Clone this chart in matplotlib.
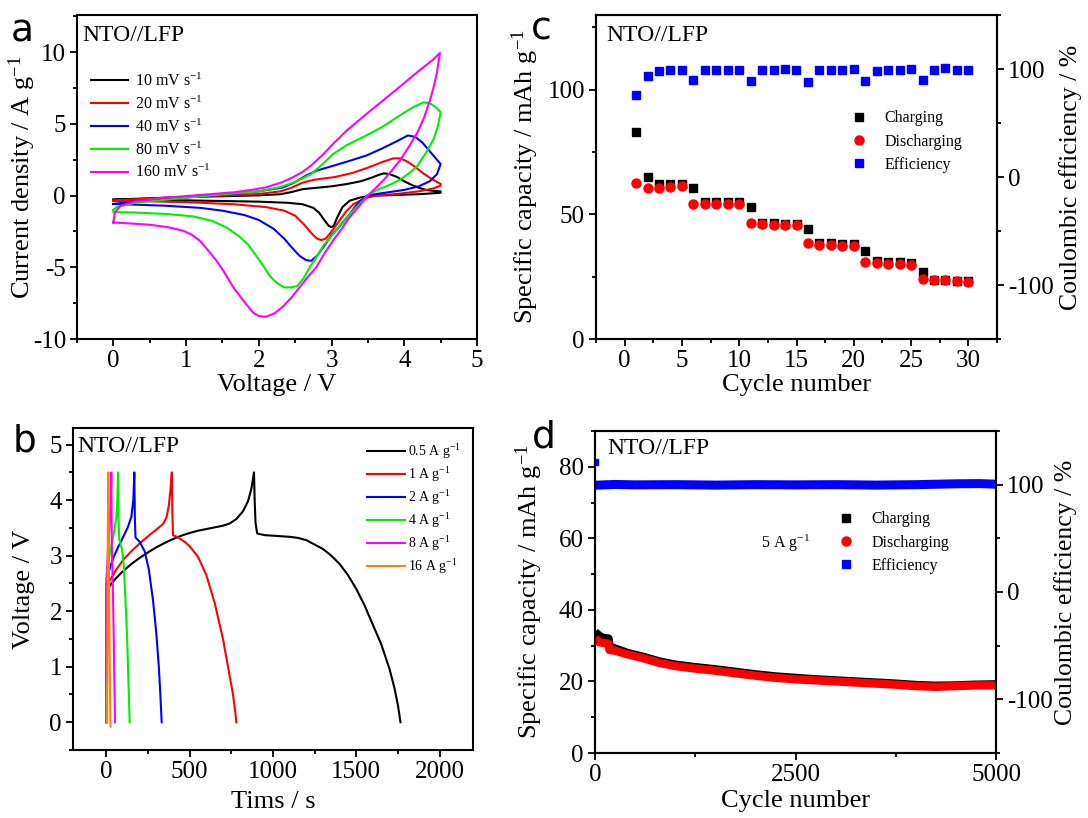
import matplotlib
matplotlib.use('Agg')
import matplotlib.pyplot as plt
from matplotlib.ticker import MultipleLocator

plt.rcParams['font.family'] = 'serif'
plt.rcParams['font.serif'] = ['Liberation Serif', 'DejaVu Serif']
plt.rcParams['mathtext.fontset'] = 'custom'
plt.rcParams['mathtext.rm'] = 'Liberation Serif'
plt.rcParams['mathtext.default'] = 'regular'
plt.rcParams['axes.unicode_minus'] = False
plt.rcParams['axes.linewidth'] = 1.5

# ---------------- panel a: CV curves ----------------
scan_labels = ['10 mV s$^{-1}$', '20 mV s$^{-1}$', '40 mV s$^{-1}$', '80 mV s$^{-1}$', '160 mV s$^{-1}$']
scan_colors = ['black', '#ff0000', '#0000ff', '#00ee00', '#ff00ff']

cv10_v = [0, 0.5, 1.0, 1.5, 2.0, 2.3, 2.45, 2.6, 2.8, 3.0, 3.2, 3.4, 3.55, 3.65, 3.72, 3.8, 3.9, 4.0, 4.1, 4.2, 4.3, 4.4, 4.5,
          4.5, 4.2, 3.9, 3.6, 3.4, 3.25, 3.15, 3.08, 3.03, 3.0, 2.96, 2.9, 2.83, 2.75, 2.6, 2.4, 2.0, 1.0, 0]
cv10_i = [-0.28, -0.18, -0.1, -0.04, 0.02, 0.1, 0.25, 0.45, 0.55, 0.65, 0.8, 1.0, 1.25, 1.45, 1.55, 1.5, 1.3, 1.0, 0.75, 0.55, 0.4, 0.33, 0.3,
          0.2, 0.1, 0.05, 0.0, -0.12, -0.35, -0.8, -1.5, -2.1, -2.2, -2.1, -1.7, -1.2, -0.85, -0.6, -0.5, -0.42, -0.33, -0.28]

cv20_v = [0, 0.5, 1.0, 1.5, 2.0, 2.3, 2.45, 2.6, 2.75, 2.9, 3.05, 3.3, 3.5, 3.7, 3.85, 3.95, 4.05, 4.15, 4.25, 4.35, 4.45, 4.5,
          4.5, 4.4, 4.2, 3.9, 3.6, 3.45, 3.3, 3.2, 3.1, 3.0, 2.92, 2.86, 2.8, 2.72, 2.62, 2.5, 2.35, 2.1, 1.65, 1.0, 0]
cv20_i = [-0.35, -0.2, -0.08, 0.0, 0.12, 0.3, 0.55, 0.9, 1.1, 1.2, 1.3, 1.6, 1.95, 2.35, 2.6, 2.6, 2.35, 2.0, 1.6, 1.25, 0.95, 0.82,
          0.7, 0.5, 0.3, 0.12, 0.0, -0.2, -0.6, -1.1, -1.8, -2.5, -3.0, -3.1, -3.0, -2.6, -2.0, -1.4, -1.05, -0.8, -0.6, -0.45, -0.35]

cv40_v = [0, 0.3, 0.73, 1.2, 1.65, 2.0, 2.34, 2.5, 2.65, 2.8, 3.0, 3.2, 3.48, 3.7, 3.9, 4.05, 4.15, 4.25, 4.35, 4.45, 4.5,
          4.5, 4.45, 4.35, 4.2, 4.0, 3.8, 3.6, 3.48, 3.35, 3.25, 3.1, 3.0, 2.9, 2.8, 2.72, 2.65, 2.56, 2.45, 2.35, 2.2, 2.0,
          1.8, 1.5, 1.19, 0.7, 0]
cv40_i = [-0.58, -0.4, -0.23, -0.05, 0.12, 0.3, 0.58, 0.95, 1.4, 1.75, 2.05, 2.35, 2.8, 3.3, 3.8, 4.2, 4.1, 3.7, 3.1, 2.5, 2.2,
          2.2, 1.5, 1.0, 0.65, 0.4, 0.25, 0.1, 0.0, -0.6, -1.3, -2.2, -2.75, -3.5, -4.2, -4.55, -4.5, -4.2, -3.6, -3.0, -2.3, -1.7,
          -1.35, -1.05, -0.85, -0.7, -0.58]

cv80_v = [0, 0.05, 0.3, 0.73, 1.2, 1.65, 2.0, 2.3, 2.5, 2.72, 2.9, 3.02, 3.2, 3.48, 3.7, 3.94, 4.1, 4.26, 4.35, 4.45, 4.5,
          4.5, 4.46, 4.4, 4.3, 4.17, 4.05, 3.94, 3.8, 3.65, 3.5, 3.4, 3.25, 3.1, 3.02, 2.9, 2.79, 2.7, 2.61, 2.53, 2.45, 2.35,
          2.25, 2.15, 2.05, 1.95, 1.85, 1.72, 1.55, 1.35, 1.1, 0.73, 0.3, 0, 0]
cv80_i = [-1.0, -0.8, -0.5, -0.28, -0.05, 0.15, 0.3, 0.6, 0.95, 1.5, 2.3, 2.9, 3.5, 4.2, 4.8, 5.6, 6.1, 6.5, 6.45, 6.1, 5.8,
          5.8, 4.8, 3.9, 3.0, 2.0, 1.5, 1.1, 0.75, 0.45, 0.05, -0.5, -1.3, -2.2, -2.7, -3.4, -4.3, -5.0, -5.8, -6.3, -6.4, -6.4,
          -6.1, -5.6, -4.8, -4.1, -3.4, -2.8, -2.2, -1.75, -1.45, -1.28, -1.18, -1.15, -1.0]

cv160_v = [0, 0.02, 0.1, 0.3, 0.7, 1.2, 1.65, 1.9, 2.1, 2.3, 2.47, 2.6, 2.72, 2.87, 3.02, 3.2, 3.48, 3.7, 3.94, 4.2, 4.4, 4.49,
           4.49, 4.45, 4.4, 4.35, 4.27, 4.17, 4.05, 3.94, 3.82, 3.71, 3.6, 3.48, 3.37, 3.25, 3.14, 3.02, 2.9, 2.79, 2.67, 2.56,
           2.45, 2.34, 2.22, 2.1, 2.0, 1.92, 1.8, 1.65, 1.52, 1.42, 1.3, 1.19, 1.07, 0.96, 0.75, 0.5, 0.2, 0]
cv160_i = [-1.87, -1.2, -0.7, -0.4, -0.15, 0.05, 0.23, 0.4, 0.58, 0.9, 1.28, 1.65, 2.1, 2.8, 3.6, 4.5, 5.7, 6.6, 7.6, 8.7, 9.5, 9.95,
           9.95, 8.6, 7.5, 6.6, 5.4, 4.3, 3.3, 2.45, 1.7, 1.05, 0.5, -0.1, -0.8, -1.5, -2.3, -3.15, -4.05, -5.0, -5.7, -6.4,
           -7.1, -7.7, -8.2, -8.45, -8.4, -8.15, -7.4, -6.4, -5.3, -4.55, -3.8, -3.15, -2.7, -2.45, -2.2, -2.03, -1.93, -1.87]

# ---------------- panel b: GCD curves ----------------
rate_labels = ['0.5 A g$^{-1}$', '1 A g$^{-1}$', '2 A g$^{-1}$', '4 A g$^{-1}$', '8 A g$^{-1}$', '16 A g$^{-1}$']
rate_colors = ['black', '#ff0000', '#0000ff', '#00ee00', '#ff00ff', '#ff7f0e']

gcd05_t = [0, 1, 10, 30, 60, 100, 150, 200, 250, 300, 350, 400, 450, 500, 550, 600, 650, 700, 740, 780, 820, 850, 870, 886,
           890, 895, 905, 950, 1000, 1100, 1150, 1200, 1250, 1300, 1350, 1400, 1450, 1500, 1550, 1600, 1650, 1700, 1730, 1750, 1765]
gcd05_v = [0, 2.3, 2.4, 2.5, 2.6, 2.72, 2.85, 2.96, 3.06, 3.15, 3.23, 3.3, 3.36, 3.41, 3.45, 3.48, 3.51, 3.54, 3.58, 3.66, 3.8, 3.98, 4.2, 4.5,
           4.0, 3.6, 3.4, 3.37, 3.36, 3.34, 3.32, 3.28, 3.2, 3.12, 3.0, 2.85, 2.65, 2.4, 2.1, 1.75, 1.4, 0.95, 0.6, 0.3, 0]
gcd1_t = [0, 1, 10, 30, 60, 100, 150, 200, 250, 300, 340, 360, 375, 385, 393, 396, 400, 430, 470, 500, 550, 600, 650, 700, 730, 760, 775, 780]
gcd1_v = [0, 2.4, 2.5, 2.6, 2.75, 2.92, 3.08, 3.22, 3.35, 3.47, 3.57, 3.68, 3.9, 4.2, 4.5, 3.8, 3.37, 3.33, 3.25, 3.17, 2.98, 2.65, 2.15, 1.5, 1.0, 0.5, 0.15, 0]
gcd2_t = [0, 1, 10, 25, 45, 70, 100, 130, 150, 162, 168, 171, 175, 200, 230, 255, 280, 300, 315, 325, 332]
gcd2_v = [0, 2.5, 2.65, 2.82, 2.98, 3.15, 3.33, 3.52, 3.7, 4.0, 4.5, 3.7, 3.33, 3.25, 3.08, 2.75, 2.2, 1.6, 1.0, 0.45, 0]
gcd4_t = [0, 1, 10, 25, 45, 60, 66, 70, 73, 77, 95, 105, 115, 125, 133, 140]
gcd4_v = [0, 2.6, 2.85, 3.1, 3.4, 3.7, 4.0, 4.5, 3.7, 3.3, 3.1, 2.8, 2.2, 1.5, 0.7, 0]
gcd8_t = [0, 1, 8, 18, 26, 30, 33, 38, 44, 48, 52]
gcd8_v = [0.7, 2.5, 3.0, 3.5, 4.0, 4.5, 3.2, 2.6, 1.6, 0.8, 0]
gcd16_t = [5, 7, 9, 12, 15, 18, 22, 25]
gcd16_v = [0, 2.0, 3.5, 4.5, 3.0, 1.8, 0.6, -0.08]

# ---------------- panel c: rate performance ----------------
cycle_c = list(range(1, 31))
charge_c = [83.2, 65.0, 62.1, 62.1, 62.1, 60.7, 55.0, 55.0, 55.0, 55.0,
            53.0, 46.6, 46.4, 46.2, 46.1, 44.0, 38.6, 38.4, 38.2, 38.0,
            35.3, 31.2, 31.0, 30.8, 30.6, 26.9, 23.5, 23.5, 23.4, 23.2]
discharge_c = [62.5, 60.5, 60.7, 61.0, 61.3, 54.3, 54.3, 54.3, 54.2, 54.2,
               46.6, 46.2, 45.8, 45.7, 45.6, 38.5, 37.9, 37.7, 37.4, 37.4,
               30.8, 30.4, 30.2, 29.9, 29.8, 23.9, 23.5, 23.5, 23.2, 22.8]
eff_c = [75.5, 93.5, 98.4, 99.4, 99.4, 89.4, 99.4, 99.4, 99.4, 99.4,
         88.5, 98.8, 98.8, 100.0, 99.4, 87.9, 98.8, 98.8, 99.4, 100.0,
         88.5, 97.8, 99.4, 99.4, 100.0, 89.4, 99.4, 100.6, 99.4, 99.4]

# ---------------- panel d: long cycling ----------------
cycle_d = [1, 50, 100, 170, 180, 250, 400, 600, 800, 1000, 1250, 1500, 1750, 2000, 2250,
           2500, 2750, 3000, 3250, 3500, 3750, 4000, 4250, 4500, 4750, 5000]
charge_d = [33.8, 32.8, 32.2, 32.0, 29.8, 29.2, 28.0, 26.9, 25.6, 24.7, 24.0, 23.4, 22.7, 22.0, 21.4,
            21.0, 20.6, 20.3, 20.0, 19.7, 19.4, 19.0, 18.8, 18.9, 19.1, 19.2]
discharge_d = [32.0, 31.0, 30.8, 30.5, 28.8, 28.6, 27.6, 26.5, 25.2, 24.3, 23.6, 23.0, 22.3, 21.6, 21.0,
               20.6, 20.3, 20.0, 19.7, 19.4, 19.1, 18.7, 18.5, 18.7, 18.9, 18.9]
eff_cycle_d = [1, 10, 250, 500, 1000, 1500, 2000, 2500, 3000, 3500, 4000, 4500, 4800, 5000]
eff_d = [121, 99.5, 100.2, 99.8, 100.0, 99.6, 100.0, 99.8, 100.0, 99.6, 100.0, 100.8, 101.0, 100.4]

W, H = 1088, 818
fig = plt.figure(figsize=(W / 100, H / 100), dpi=100)


def box(l, t, r, b):
    return [l / W, 1 - b / H, (r - l) / W, (b - t) / H]


def style(ax, right=False):
    ax.tick_params(which='both', direction='out', labelsize=18, width=1.3, top=False, right=right,
                   labelfontfamily='Liberation Serif')
    ax.tick_params(which='major', length=5, pad=3)
    ax.tick_params(which='minor', length=3)


def tag(ax, x, y, s):
    ax.text(x, y, s, transform=ax.transAxes, fontsize=17, va='top', ha='left')


# ---- a ----
ax = fig.add_axes(box(77, 15, 477, 339))
cv_v = [cv10_v, cv20_v, cv40_v, cv80_v, cv160_v]
cv_i = [cv10_i, cv20_i, cv40_i, cv80_i, cv160_i]
for k in range(5):
    ax.plot(cv_v[k], cv_i[k], color=scan_colors[k], lw=1.5, label=scan_labels[k])
ax.set_xlim(-0.5, 5)
ax.set_ylim(-10, 12.6)
ax.xaxis.set_major_locator(MultipleLocator(1))
ax.xaxis.set_minor_locator(MultipleLocator(0.5))
ax.yaxis.set_major_locator(MultipleLocator(5))
ax.yaxis.set_minor_locator(MultipleLocator(2.5))
style(ax)
ax.set_xlabel('Voltage / V', fontsize=19, labelpad=1)
ax.set_ylabel('Current density / A g$^{-1}$', fontsize=19)
ax.yaxis.set_label_coords(-0.097, 0.5)
tag(ax, 0.013, 0.97, 'NTO//LFP')
ax.legend(loc='upper left', bbox_to_anchor=(0.02, 0.842), frameon=False, fontsize=11.5,
          handlelength=2.3, handletextpad=0.4, labelspacing=0.35, borderaxespad=0)
fig.text(11 / W, 1 - 42 / H, 'a', fontsize=27, family='DejaVu Sans')

# ---- b ----
ax = fig.add_axes(box(73, 428, 473, 750))
gcd_t = [gcd05_t, gcd1_t, gcd2_t, gcd4_t, gcd8_t, gcd16_t]
gcd_v = [gcd05_v, gcd1_v, gcd2_v, gcd4_v, gcd8_v, gcd16_v]
for k in range(6):
    ax.plot(gcd_t[k], gcd_v[k], color=rate_colors[k], lw=1.5, label=rate_labels[k])
ax.set_xlim(-200, 2200)
ax.set_ylim(-0.5, 5.3)
ax.xaxis.set_major_locator(MultipleLocator(500))
ax.xaxis.set_minor_locator(MultipleLocator(250))
ax.yaxis.set_major_locator(MultipleLocator(1))
ax.yaxis.set_minor_locator(MultipleLocator(0.5))
style(ax)
ax.set_xlabel('Tims / s', fontsize=19, labelpad=6)
ax.set_ylabel('Voltage / V', fontsize=19)
ax.yaxis.set_label_coords(-0.095, 0.5)
tag(ax, 0.01, 0.975, 'NTO//LFP')
ax.legend(loc='upper left', bbox_to_anchor=(0.72, 0.975), frameon=False, fontsize=10,
          handlelength=2.8, handletextpad=0.2, labelspacing=0.3, borderaxespad=0)
fig.text(13 / W, 1 - 452 / H, 'b', fontsize=27, family='DejaVu Sans')

# ---- c ----
ax = fig.add_axes(box(596, 15, 997, 339))
ax2 = ax.twinx()
ax.plot(cycle_c, charge_c, 's', color='black', ms=6, label='Charging')
ax.plot(cycle_c, discharge_c, 'o', color='#ff0000', ms=6.5, label='Discharging')
ax2.plot(cycle_c, eff_c, 's', color='#0000ff', ms=6, label='Efficiency')
ax.set_xlim(-2.5, 32.5)
ax.set_ylim(0, 130)
ax2.set_ylim(-150, 150)
ax.xaxis.set_major_locator(MultipleLocator(5))
ax.xaxis.set_minor_locator(MultipleLocator(2.5))
ax.yaxis.set_major_locator(MultipleLocator(50))
ax.yaxis.set_minor_locator(MultipleLocator(25))
ax2.yaxis.set_major_locator(MultipleLocator(100))
ax2.yaxis.set_minor_locator(MultipleLocator(50))
style(ax)
style(ax2, right=True)
ax2.tick_params(which='both', left=False)
ax.set_xlabel('Cycle number', fontsize=19, labelpad=1)
ax.set_ylabel('Specific capacity / mAh g$^{-1}$', fontsize=19)
ax.yaxis.set_label_coords(-0.137, 0.5)
ax2.set_ylabel('Coulombic efficiency / %', fontsize=18.5)
ax2.yaxis.set_label_coords(1.155, 0.5)
tag(ax, 0.025, 0.97, 'NTO//LFP')
h1, l1 = ax.get_legend_handles_labels()
h2, l2 = ax2.get_legend_handles_labels()
ax2.legend(h1 + h2, l1 + l2, loc='upper left', bbox_to_anchor=(0.615, 0.725), frameon=False,
           fontsize=11.5, handlelength=1.2, handletextpad=1.0, labelspacing=0.45,
           borderaxespad=0, numpoints=1)
fig.text(531 / W, 1 - 40 / H, 'c', fontsize=27, family='DejaVu Sans')

# ---- d ----
ax = fig.add_axes(box(595, 431, 996, 753))
ax2 = ax.twinx()
ax.plot(cycle_d, charge_d, '-', color='black', lw=6, solid_capstyle='butt', label='Charging')
ax.plot(cycle_d, discharge_d, '-', color='#ff0000', lw=6, solid_capstyle='butt', label='Discharging')
ax2.plot(eff_cycle_d[1:], eff_d[1:], '-', color='#0000ff', lw=6.5, solid_capstyle='butt')
ax2.plot(eff_cycle_d[:1], eff_d[:1], 's', color='#0000ff', ms=5)
ax.set_xlim(0, 5000)
ax.set_ylim(0, 90)
ax2.set_ylim(-150, 150)
ax.xaxis.set_major_locator(MultipleLocator(2500))
ax.xaxis.set_minor_locator(MultipleLocator(1250))
ax.yaxis.set_major_locator(MultipleLocator(20))
ax.yaxis.set_minor_locator(MultipleLocator(10))
ax2.yaxis.set_major_locator(MultipleLocator(100))
ax2.yaxis.set_minor_locator(MultipleLocator(50))
style(ax)
style(ax2, right=True)
ax2.tick_params(which='both', left=False)
ax.set_xlabel('Cycle number', fontsize=19, labelpad=3)
ax.set_ylabel('Specific capacity / mAh g$^{-1}$', fontsize=19)
ax.yaxis.set_label_coords(-0.125, 0.5)
ax2.set_ylabel('Coulombic efficiency / %', fontsize=18.5)
ax2.yaxis.set_label_coords(1.145, 0.5)
tag(ax, 0.03, 0.978, 'NTO//LFP')
ax2.plot([], [], 's', color='black', ms=6, label='Charging')
ax2.plot([], [], 'o', color='#ff0000', ms=6.5, label='Discharging')
ax2.plot([], [], 's', color='#0000ff', ms=6, label='Efficiency')
ax2.legend(loc='upper left', bbox_to_anchor=(0.585, 0.77), frameon=False,
           fontsize=11.5, handlelength=1.2, handletextpad=1.0, labelspacing=0.45,
           borderaxespad=0)
ax.text(0.414, 0.652, '5 A g$^{-1}$', transform=ax.transAxes, fontsize=11.5, va='center')
fig.text(532 / W, 1 - 448 / H, 'd', fontsize=27, family='DejaVu Sans')

fig.savefig('out.png', dpi=100)
